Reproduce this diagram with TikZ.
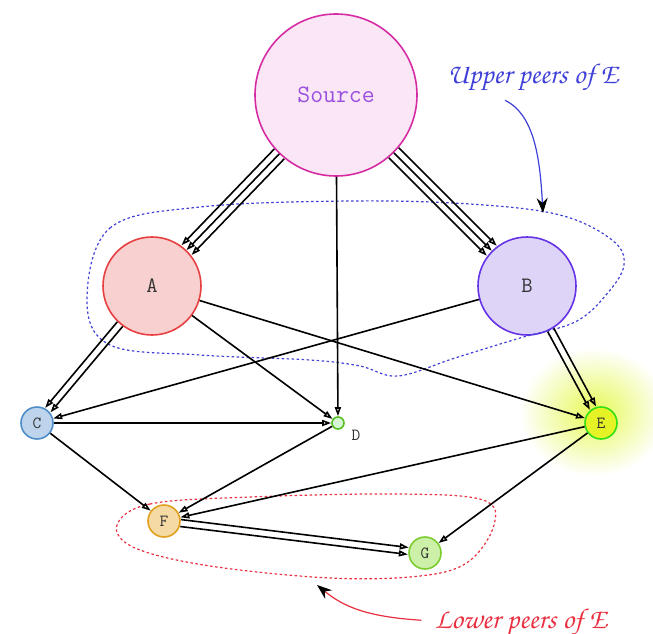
\documentclass[tikz,border=0pt]{standalone}
\usepackage{fontspec}
\usetikzlibrary{arrows.meta}
\definecolor{srcfill}{HTML}{FAE6F5}\definecolor{srcline}{HTML}{D52CA5}\definecolor{srctext}{HTML}{9B4FE0}
\definecolor{afill}{HTML}{F8D0D0}\definecolor{aline}{HTML}{E84040}
\definecolor{bfill}{HTML}{DDD4F8}\definecolor{bline}{HTML}{6633E6}
\definecolor{cfill}{HTML}{BDD4EC}\definecolor{cline}{HTML}{4F8DC8}
\definecolor{dfill}{HTML}{D6F5D6}\definecolor{dline}{HTML}{55C020}
\definecolor{efill}{HTML}{E5F225}\definecolor{eline}{HTML}{33E015}
\definecolor{ffill}{HTML}{F6DAA4}\definecolor{fline}{HTML}{E0A020}
\definecolor{gfill}{HTML}{CDF0A8}\definecolor{gline}{HTML}{7CCC30}
\definecolor{upper}{HTML}{4040D8}\definecolor{lower}{HTML}{E83040}
\definecolor{glow}{HTML}{E6F855}\definecolor{labtext}{HTML}{333333}
\begin{document}
\begin{tikzpicture}[x=1pt,y=-1pt,
  peer/.style={circle,inner sep=0pt,line width=1.6pt,text=labtext,
    font=\ttfamily\fontsize{17}{17}\selectfont},
  bigpeer/.style={peer,minimum size=98pt,font=\ttfamily\fontsize{22}{22}\selectfont},
  smallpeer/.style={peer,minimum size=32pt},
  edge/.style={line width=1.6pt,-{Triangle[open,length=9pt,width=6pt]}},
  region/.style={line width=1.2pt,dash pattern=on 2.5pt off 2.5pt},
  note/.style={font=\fontencoding{T1}\fontfamily{pzc}\fontseries{mb}\fontshape{it}\fontsize{28.5}{28.5}\selectfont},
  pointer/.style={line width=1.2pt,-{Stealth[black,length=15pt,width=11pt]}}]
\useasboundingbox (0,0) rectangle (653,634);

% halo behind E
\shade[inner color=glow,outer color=white] (594,412) ellipse [x radius=74,y radius=64];

% peers
\node[peer,minimum size=162pt,draw=srcline,fill=srcfill,text=srctext,
  font=\ttfamily\fontsize{25}{25}\selectfont] (S) at (336,95) {Source};
\node[bigpeer,draw=aline,fill=afill] (A) at (152,286) {A};
\node[bigpeer,draw=bline,fill=bfill] (B) at (527,286) {B};
\node[smallpeer,draw=cline,fill=cfill] (C) at (37,423) {C};
\node[peer,minimum size=12pt,draw=dline,fill=dfill] (D) at (338,423) {};
\node[peer,anchor=center] (Dl) at (356,435) {D};
\node[smallpeer,draw=eline,fill=efill] (E) at (601,423) {E};
\node[smallpeer,draw=fline,fill=ffill] (F) at (164,521) {F};
\node[smallpeer,draw=gline,fill=gfill] (G) at (425,553) {G};

% peer groups
\draw[region,upper] plot[smooth cycle,tension=0.6] coordinates {
  (87,300) (110,228) (200,207) (350,201) (470,204) (560,215) (612,240) (624,265)
  (606,295) (575,322) (520,338) (455,358) (398,376) (360,366) (310,360) (200,355) (110,345)};
\draw[region,lower] plot[smooth cycle,tension=0.6] coordinates {
  (117,525) (150,504) (250,497) (400,494) (483,500) (494,525) (468,562)
  (420,576) (330,578) (210,566) (135,548)};

% source links
\foreach \k in {-1,0,1}{
  \draw[edge,transform canvas={shift={(5*\k,4.9*\k)}}] (S) -- (A);
  \draw[edge,transform canvas={shift={(4.95*\k,-4.95*\k)}}] (S) -- (B);
}
\draw[edge] (S) -- (D);

% remaining links
\foreach \k in {-1,1}{
  \draw[edge,transform canvas={shift={(2.7*\k,2.25*\k)}}] (A) -- (C);
  \draw[edge,transform canvas={shift={(3.08*\k,-1.66*\k)}}] (B) -- (E);
  \draw[edge,transform canvas={shift={(0.43*\k,-3.47*\k)}}] (F) -- (G);
}
\draw[edge] (A) -- (D);
\draw[edge] (A) -- (E);
\draw[edge] (B) -- (C);
\draw[edge] (C) -- (D);
\draw[edge] (C) -- (F);
\draw[edge] (D) -- (F);
\draw[edge] (E) -- (F);
\draw[edge] (E) -- (G);

% annotations
\node[note,text=upper,anchor=base] (up) at (533,84) {Upper peers of E};
\coordinate (uptip) at (543,213);
\draw[pointer,upper] (up.south) ++(-28,4) .. controls (535,115) and (540,160) .. (uptip);
\node[note,text=lower,anchor=base] (lo) at (521,628) {Lower peers of E};
\coordinate (lotip) at (317,585);
\draw[pointer,lower] (lo.west) ++(-10,-2) .. controls (370,617) and (345,608) .. (lotip);
\end{tikzpicture}
\end{document}
